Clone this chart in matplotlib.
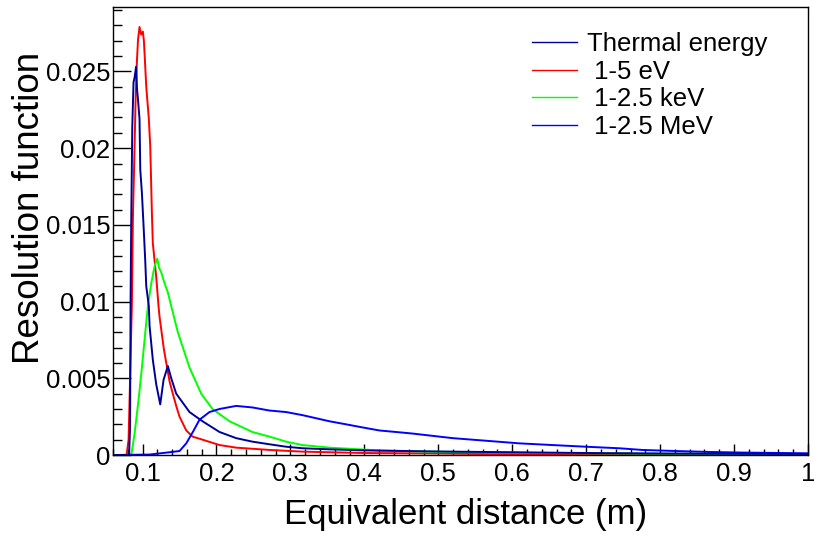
import matplotlib
matplotlib.use("Agg")
import matplotlib.pyplot as plt
from matplotlib.ticker import MultipleLocator, FuncFormatter

plt.rcParams['font.family'] = ['Liberation Sans', 'DejaVu Sans']

# values (x in m, y = resolution function)
thermal_x = [0.060, 0.0757, 0.0818, 0.0831, 0.0838, 0.0847, 0.0861, 0.0878, 0.0892, 0.0912,
             0.0926, 0.0936, 0.0959, 0.0969, 0.0991, 0.1014, 0.1036, 0.1050, 0.1085, 0.1095,
             0.1139, 0.1185, 0.1239, 0.1284, 0.1342, 0.1388, 0.1455, 0.1500, 0.1635, 0.1811,
             0.2041, 0.2266, 0.2486, 0.2716, 0.2942, 0.3162, 0.3527, 0.40, 0.50, 0.60,
             0.70, 0.80, 0.90, 1.00]
thermal_y = [0, 0, 0, 0.0018, 0.0101, 0.0153, 0.0214, 0.0243, 0.0246, 0.0253,
             0.0238, 0.0233, 0.0219, 0.0186, 0.0171, 0.0149, 0.0127, 0.0110, 0.0097, 0.0084,
             0.0062, 0.0046, 0.0033, 0.0049, 0.0058, 0.0050, 0.0040, 0.0037, 0.0028, 0.0022,
             0.0015, 0.0011, 0.00087, 0.0007, 0.00054, 0.00044, 0.00037, 0.0003, 0.00023, 0.00018,
             0.00013, 0.0001, 0.00008, 0.00007]

ev_x = [0.060, 0.0784, 0.0811, 0.0831, 0.0847, 0.0855, 0.0869, 0.0892, 0.0905, 0.0923,
        0.0939, 0.0959, 0.0982, 0.1004, 0.1018, 0.1027, 0.1050, 0.1085, 0.1104, 0.1112,
        0.1126, 0.1139, 0.1162, 0.1185, 0.1216, 0.1230, 0.1288, 0.1365, 0.1409, 0.1455,
        0.1500, 0.1591, 0.1676, 0.1811, 0.2041, 0.2266, 0.2716, 0.3162, 0.3527, 0.40,
        0.50, 0.55, 0.70, 1.00]
ev_y = [0, 0, 0.0010, 0.0049, 0.0082, 0.0097, 0.0153, 0.0201, 0.0230, 0.0256,
        0.0271, 0.0279, 0.0274, 0.0276, 0.0270, 0.0262, 0.0240, 0.0219, 0.0201, 0.0186,
        0.0158, 0.0138, 0.0127, 0.0116, 0.0097, 0.0090, 0.0069, 0.0048, 0.0040, 0.0032,
        0.0025, 0.0016, 0.0012, 0.0010, 0.00065, 0.00048, 0.00033, 0.00022, 0.00018, 0.00013,
        0.0001, 0.00007, 0.00005, 0.00003]

kev_x = [0.060, 0.0838, 0.0851, 0.0892, 0.0946, 0.0991, 0.1041, 0.1072, 0.1118, 0.1162,
         0.1199, 0.1223, 0.1253, 0.1297, 0.1342, 0.1388, 0.1477, 0.1635, 0.1793, 0.1946,
         0.2176, 0.2486, 0.2716, 0.2942, 0.3162, 0.3527, 0.4203, 0.4878, 0.60, 0.70,
         0.80, 0.90, 1.00]
kev_y = [0, 0, 0.0001, 0.0014, 0.0036, 0.0057, 0.0082, 0.0097, 0.0112, 0.0123,
         0.0128, 0.0122, 0.0119, 0.0112, 0.0106, 0.0097, 0.0080, 0.0057, 0.0040, 0.0030,
         0.0022, 0.0015, 0.0012, 0.00087, 0.00065, 0.00048, 0.0003, 0.00022, 0.00015, 0.00011,
         0.00008, 0.00007, 0.00005]

mev_x = [0.060, 0.1095, 0.1365, 0.1500, 0.1591, 0.1680, 0.1770, 0.1905, 0.2041, 0.2266,
         0.2486, 0.2716, 0.2942, 0.3162, 0.3527, 0.3753, 0.3973, 0.4203, 0.4428, 0.4649,
         0.5193, 0.5645, 0.6095, 0.6541, 0.6996, 0.7446, 0.7757, 0.8212, 0.8662, 0.9108,
         1.00]
mev_y = [0, 0.00003, 0.00018, 0.00026, 0.00076, 0.0015, 0.0023, 0.0028, 0.0030, 0.0032,
         0.0031, 0.0029, 0.0028, 0.0026, 0.0022, 0.0020, 0.0018, 0.0016, 0.0015, 0.0014,
         0.0011, 0.00093, 0.00076, 0.00065, 0.00054, 0.00044, 0.00033, 0.00026, 0.0002, 0.00016,
         0.00011]

labels = ["Thermal energy", " 1-5 eV", " 1-2.5 keV", " 1-2.5 MeV"]
colors = ["#000099", "#ff0000", "#00ff00", "#0000ff"]

fig = plt.figure(figsize=(8.14, 5.36), dpi=100)
ax = fig.add_axes([0.1388, 0.1511, 0.8538, 0.8358])

l_ev, = ax.plot(ev_x, ev_y, color=colors[1], lw=1.4)
l_kev, = ax.plot(kev_x, kev_y, color=colors[2], lw=1.4)
l_mev, = ax.plot(mev_x, mev_y, color=colors[3], lw=1.4)
l_th, = ax.plot(thermal_x, thermal_y, color=colors[0], lw=1.4)

ax.set_xlim(0.06, 1.0)
ax.set_ylim(0, 0.0292)

ax.xaxis.set_major_locator(MultipleLocator(0.1))
ax.xaxis.set_minor_locator(MultipleLocator(0.02))
ax.yaxis.set_major_locator(MultipleLocator(0.005))
ax.yaxis.set_minor_locator(MultipleLocator(0.001))
fmt = FuncFormatter(lambda v, p: "%g" % round(v, 4))
ax.xaxis.set_major_formatter(fmt)
ax.yaxis.set_major_formatter(fmt)

ax.tick_params(axis='both', which='both', direction='in', top=False, right=False,
               labelsize=18.5, width=1)
ax.tick_params(axis='x', which='major', length=8, pad=5)
ax.tick_params(axis='x', which='minor', length=4.3)
ax.tick_params(axis='y', which='major', length=13, pad=2)
ax.tick_params(axis='y', which='minor', length=6.5)
for s in ax.spines.values():
    s.set_linewidth(1)

ax.set_xlabel("Equivalent distance (m)", fontsize=25, loc='right')
ax.xaxis.set_label_coords(0.768, -0.096)
ax.set_ylabel("Resolution function", fontsize=26.5, loc='top')
ax.yaxis.set_label_coords(-0.095, 0.90)

leg = fig.legend([l_th, l_ev, l_kev, l_mev], labels, loc='upper left',
                 bbox_to_anchor=(0.6536, 0.94), frameon=False, fontsize=18.5,
                 borderpad=0, borderaxespad=0, handlelength=1.75, handletextpad=0.38,
                 labelspacing=0.14)
for h in leg.get_lines():
    h.set_linewidth(1)

fig.savefig("out.png", dpi=100)
